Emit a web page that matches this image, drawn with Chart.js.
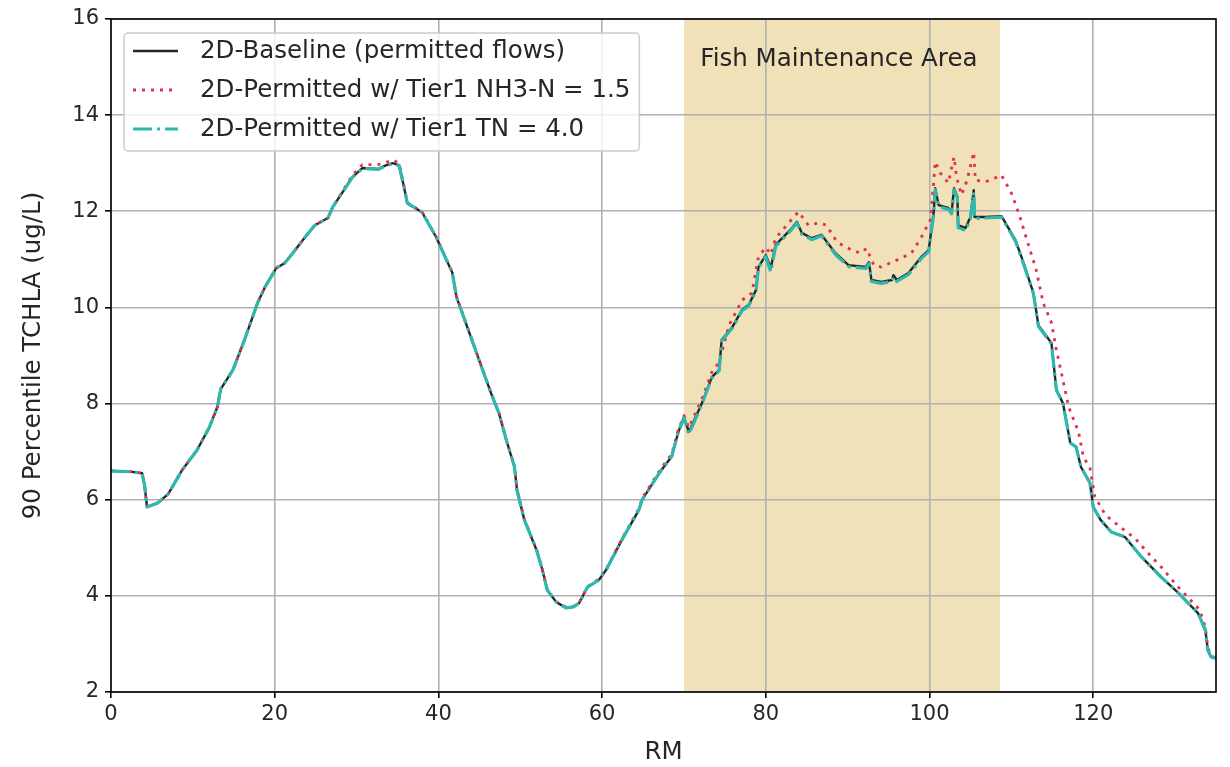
<!DOCTYPE html>
<html>
<head>
<meta charset="utf-8">
<title>90 Percentile TCHLA along the river</title>
<script src="https://cdn.jsdelivr.net/npm/chart.js@4.4.1/dist/chart.umd.min.js"></script>
<style>
  html, body { margin: 0; padding: 0; background: #fff; }
  #chart-wrap { width: 1230px; height: 767px; }
</style>
</head>
<body>
<div id="chart-wrap"><canvas id="tchlaChart" width="1230" height="767"></canvas></div>
<script>
// River mile stations shared by the baseline and TN runs
const rmStations = [
    0, 2.6, 3.8, 4.1, 4.4, 5.7, 7.0, 8.7, 10.5, 12.0,
    13.0, 13.4, 14.9, 16.3, 17.9, 18.8, 20.2, 21.2, 22.3, 23.7,
    24.9, 26.5, 27.1, 28.3, 29.5, 30.7, 32.6, 33.5, 34.4, 35.2,
    35.8, 36.2, 38.0, 39.7, 41.7, 42.2, 44.1, 45.4, 46.6, 47.4,
    48.3, 49.3, 49.6, 50.5, 52.0, 52.7, 53.3, 54.4, 55.6, 56.5,
    57.2, 58.2, 59.6, 60.5, 62.4, 64.5, 64.9, 67.0, 68.5, 69.3,
    70.0, 70.6, 72.2, 73.4, 74.3, 74.6, 75.9, 77.1, 77.9, 78.8,
    79.1, 80.0, 80.6, 81.2, 83.2, 83.8, 84.4, 85.6, 86.8, 88.5,
    90.1, 92.2, 92.6, 92.9, 94.1, 95.4, 95.6, 96.0, 97.4, 99.0,
    99.9, 100.5, 100.7, 101.1, 102.3, 102.7, 103.0, 103.4, 103.5, 104.4,
    105.0, 105.4, 105.5, 106.8, 108.8, 110.5, 111.5, 112.7, 113.3, 114.9,
    115.5, 116.3, 117.2, 117.9, 118.5, 119.6, 120.0, 120.9, 122.2, 123.9,
    125.9, 128.3, 130.4, 132.8, 133.7, 134.0, 134.4, 135.0
];

// 2D-Baseline (permitted flows), ug/L
const baselineTchla = [
    6.60, 6.58, 6.55, 6.30, 5.85, 5.93, 6.12, 6.62, 7.03, 7.50,
    7.93, 8.30, 8.70, 9.32, 10.09, 10.42, 10.82, 10.92, 11.15, 11.46,
    11.71, 11.86, 12.09, 12.40, 12.71, 12.90, 12.88, 12.95, 13.00, 12.96,
    12.50, 12.17, 11.98, 11.47, 10.72, 10.22, 9.32, 8.70, 8.14, 7.80,
    7.24, 6.68, 6.20, 5.58, 4.95, 4.54, 4.12, 3.87, 3.75, 3.77,
    3.85, 4.18, 4.33, 4.54, 5.16, 5.79, 6.00, 6.56, 6.90, 7.40,
    7.72, 7.41, 8.01, 8.55, 8.70, 9.32, 9.59, 9.95, 10.05, 10.36,
    10.84, 11.09, 10.82, 11.30, 11.65, 11.78, 11.55, 11.44, 11.51, 11.13,
    10.88, 10.84, 10.94, 10.57, 10.53, 10.57, 10.67, 10.57, 10.71, 11.05,
    11.19, 11.96, 12.48, 12.13, 12.07, 11.98, 12.48, 12.30, 11.71, 11.65,
    11.88, 12.44, 11.88, 11.88, 11.90, 11.40, 10.92, 10.30, 9.63, 9.26,
    8.28, 8.01, 7.18, 7.10, 6.68, 6.35, 5.85, 5.58, 5.33, 5.22,
    4.81, 4.39, 4.06, 3.64, 3.29, 2.87, 2.73, 2.70
];

// 2D-Permitted w/ Tier1 TN = 4.0, ug/L
const tnTchla = [
    6.60, 6.58, 6.55, 6.30, 5.85, 5.93, 6.12, 6.62, 7.03, 7.50,
    7.93, 8.30, 8.70, 9.32, 10.09, 10.42, 10.82, 10.92, 11.15, 11.46,
    11.71, 11.86, 12.09, 12.40, 12.71, 12.89, 12.87, 12.94, 12.99, 12.95,
    12.50, 12.17, 11.98, 11.47, 10.72, 10.22, 9.32, 8.70, 8.14, 7.80,
    7.24, 6.68, 6.20, 5.58, 4.95, 4.54, 4.12, 3.87, 3.75, 3.77,
    3.85, 4.18, 4.33, 4.54, 5.16, 5.79, 6.00, 6.56, 6.90, 7.40,
    7.70, 7.36, 7.99, 8.53, 8.68, 9.30, 9.57, 9.93, 10.03, 10.34,
    10.82, 11.06, 10.74, 11.27, 11.63, 11.76, 11.52, 11.41, 11.49, 11.10,
    10.85, 10.81, 10.91, 10.54, 10.50, 10.54, 10.64, 10.54, 10.68, 11.02,
    11.16, 11.93, 12.45, 12.10, 12.04, 11.95, 12.45, 12.27, 11.66, 11.60,
    11.85, 12.40, 11.85, 11.86, 11.88, 11.38, 10.90, 10.28, 9.61, 9.24,
    8.28, 8.01, 7.18, 7.10, 6.68, 6.35, 5.85, 5.58, 5.33, 5.22,
    4.81, 4.39, 4.06, 3.64, 3.29, 2.87, 2.73, 2.70
];

// River mile stations for the NH3-N run
const nh3Stations = [
    0, 2.6, 3.8, 4.1, 4.4, 5.7, 7.0, 8.7, 10.5, 12.0,
    13.0, 13.4, 14.9, 16.3, 17.9, 18.8, 20.2, 21.2, 22.3, 23.7,
    24.9, 26.5, 27.1, 28.3, 29.5, 30.7, 32.6, 33.5, 34.4, 35.2,
    35.8, 36.2, 38.0, 39.7, 41.7, 42.2, 44.1, 45.4, 46.6, 47.4,
    48.3, 49.3, 49.6, 50.5, 52.0, 52.7, 53.3, 54.4, 55.6, 56.5,
    57.2, 58.2, 59.6, 60.5, 62.4, 64.5, 64.9, 67.0, 68.5, 69.3,
    70.0, 70.6, 72.2, 73.4, 74.3, 75.5, 77.1, 78.3, 79.1, 80.0,
    80.6, 81.2, 82.8, 84.0, 85.2, 86.5, 87.4, 88.7, 90.5, 91.6,
    92.3, 93.2, 94.1, 95.4, 96.6, 97.8, 99.0, 100.1, 100.5, 100.7,
    101.3, 102.3, 103.0, 103.3, 103.9, 104.6, 105.4, 105.6, 106.8, 108.8,
    110.0, 110.9, 111.8, 113.0, 113.9, 114.9, 115.5, 116.3, 117.0, 118.2,
    118.8, 119.6, 120.2, 121.5, 123.3, 125.1, 126.7, 128.3, 130.4, 133.0,
    133.7, 134.0, 134.4, 135.0
];

// 2D-Permitted w/ Tier1 NH3-N = 1.5, ug/L
const nh3Tchla = [
    6.60, 6.58, 6.55, 6.30, 5.85, 5.93, 6.12, 6.62, 7.03, 7.50,
    7.93, 8.30, 8.70, 9.32, 10.09, 10.42, 10.82, 10.92, 11.15, 11.46,
    11.71, 11.86, 12.09, 12.42, 12.75, 12.97, 12.97, 13.01, 13.07, 13.00,
    12.52, 12.18, 11.99, 11.48, 10.73, 10.23, 9.33, 8.71, 8.15, 7.81,
    7.25, 6.69, 6.21, 5.59, 4.96, 4.55, 4.13, 3.88, 3.76, 3.78,
    3.86, 4.19, 4.35, 4.56, 5.18, 5.82, 6.03, 6.60, 6.95, 7.45,
    7.75, 7.50, 8.10, 8.65, 8.86, 9.63, 10.15, 10.30, 11.05, 11.25,
    11.10, 11.44, 11.76, 11.99, 11.71, 11.76, 11.71, 11.36, 11.19, 11.13,
    11.23, 10.88, 10.84, 10.94, 11.03, 11.13, 11.46, 11.82, 12.59, 13.03,
    12.80, 12.59, 13.13, 12.71, 12.34, 12.65, 13.23, 12.65, 12.61, 12.75,
    12.38, 11.96, 11.46, 10.80, 10.09, 9.68, 9.11, 8.49, 7.93, 7.41,
    6.89, 6.66, 6.06, 5.68, 5.43, 5.20, 4.89, 4.60, 4.18, 3.71,
    3.35, 2.92, 2.75, 2.70
];

const seriesLabels = [
    '2D-Baseline (permitted flows)',
    '2D-Permitted w/ Tier1 NH3-N = 1.5',
    '2D-Permitted w/ Tier1 TN = 4.0'
];

// Fish Maintenance Area reach, in RM
const fishAreaRM = [70.0, 108.6];
const fishAreaLabel = 'Fish Maintenance Area';

const FONT = '"DejaVu Sans", "Liberation Sans", sans-serif';
const TEXT_COLOR = '#262626';

const lineStyles = [
    { color: '#262626', width: 2.4, dash: [] },
    { color: '#e2304f', width: 2.8, dash: [3, 6] },
    { color: '#2fb8ae', width: 3.2, dash: [19, 5, 3, 5] }
];

function toPoints(xs, ys) {
    return xs.map((x, i) => ({ x: x, y: ys[i] }));
}

// Shaded reach sits under the grid; its caption and the frame/legend go on top
const fishAreaPlugin = {
    id: 'fishArea',
    beforeDraw(chart) {
        const { ctx, chartArea, scales } = chart;
        const x0 = scales.x.getPixelForValue(fishAreaRM[0]);
        const x1 = scales.x.getPixelForValue(fishAreaRM[1]);
        ctx.save();
        ctx.fillStyle = 'rgb(241, 225, 185)';
        ctx.fillRect(x0, chartArea.top, x1 - x0, chartArea.bottom - chartArea.top);
        ctx.restore();
    },
    beforeDatasetsDraw(chart) {
        const { ctx, scales } = chart;
        ctx.save();
        ctx.font = `24.5px ${FONT}`;
        ctx.fillStyle = TEXT_COLOR;
        ctx.textAlign = 'left';
        ctx.textBaseline = 'middle';
        ctx.fillText(fishAreaLabel, scales.x.getPixelForValue(72.0), scales.y.getPixelForValue(15.15));
        ctx.restore();
    }
};

const frameLegendPlugin = {
    id: 'frameLegend',
    afterDatasetsDraw(chart) {
        const { ctx, chartArea } = chart;
        ctx.save();
        ctx.strokeStyle = '#000';
        ctx.lineWidth = 1.6;
        ctx.strokeRect(chartArea.left, chartArea.top,
            chartArea.right - chartArea.left, chartArea.bottom - chartArea.top);

        // legend box in the upper left corner
        ctx.font = `24.5px ${FONT}`;
        const textX = chartArea.left + 89;
        const maxW = Math.max(...seriesLabels.map(t => ctx.measureText(t).width));
        const boxX = chartArea.left + 13, boxY = chartArea.top + 14;
        const boxW = textX + maxW + 9 - boxX, boxH = 118;
        ctx.beginPath();
        ctx.roundRect(boxX, boxY, boxW, boxH, 4);
        ctx.fillStyle = 'rgba(255,255,255,0.8)';
        ctx.fill();
        ctx.strokeStyle = '#cccccc';
        ctx.lineWidth = 1.5;
        ctx.stroke();

        const rowY = [boxY + 18, boxY + 57, boxY + 96];
        seriesLabels.forEach((label, i) => {
            const st = lineStyles[i];
            ctx.beginPath();
            ctx.setLineDash(st.dash);
            ctx.lineCap = 'butt';
            ctx.strokeStyle = st.color;
            ctx.lineWidth = st.width;
            ctx.moveTo(boxX + 9, rowY[i]);
            ctx.lineTo(boxX + 54, rowY[i]);
            ctx.stroke();
            ctx.setLineDash([]);
            ctx.fillStyle = TEXT_COLOR;
            ctx.textAlign = 'left';
            ctx.textBaseline = 'middle';
            ctx.fillText(label, textX, rowY[i] + 1);
        });
        ctx.restore();
    }
};

const tickFont = { family: FONT, size: 21 };
const titleFont = { family: FONT, size: 24.5 };
const gridStyle = {
    color: '#b0b0b0',
    lineWidth: 1.6,
    tickColor: '#000',
    tickLength: 6,
    tickWidth: 1.6
};

const ctx = document.getElementById('tchlaChart').getContext('2d');
const chart = new Chart(ctx, {
    type: 'line',
    data: {
        datasets: [
            {
                label: seriesLabels[0],
                data: toPoints(rmStations, baselineTchla),
                borderColor: lineStyles[0].color,
                borderWidth: lineStyles[0].width,
                order: 3
            },
            {
                label: seriesLabels[1],
                data: toPoints(nh3Stations, nh3Tchla),
                borderColor: lineStyles[1].color,
                borderWidth: lineStyles[1].width,
                borderDash: lineStyles[1].dash,
                order: 2
            },
            {
                label: seriesLabels[2],
                data: toPoints(rmStations, tnTchla),
                borderColor: lineStyles[2].color,
                borderWidth: lineStyles[2].width,
                borderDash: lineStyles[2].dash,
                order: 1
            }
        ]
    },
    options: {
        responsive: false,
        animation: false,
        layout: { padding: { top: 19, right: 14, left: 0, bottom: 0 } },
        elements: {
            point: { radius: 0, hoverRadius: 0 },
            line: { tension: 0, fill: false, borderCapStyle: 'butt', borderJoinStyle: 'round' }
        },
        plugins: {
            legend: { display: false },
            tooltip: { enabled: false }
        },
        scales: {
            x: {
                type: 'linear',
                min: 0,
                max: 135,
                grid: gridStyle,
                border: { display: false },
                ticks: { stepSize: 20, includeBounds: false, color: TEXT_COLOR, font: tickFont, padding: 4, maxRotation: 0 },
                title: { display: true, text: 'RM', color: TEXT_COLOR, font: titleFont, padding: { top: 0, bottom: 0 } },
                afterFit: scale => { scale.height = 75; }
            },
            y: {
                type: 'linear',
                min: 2,
                max: 16,
                grid: gridStyle,
                border: { display: false },
                ticks: { stepSize: 2, color: TEXT_COLOR, font: tickFont, padding: 6 },
                title: { display: true, text: '90 Percentile TCHLA (ug/L)', color: TEXT_COLOR, font: titleFont, padding: { top: 19, bottom: 0 } },
                afterFit: scale => { scale.width = 111; }
            }
        }
    },
    plugins: [fishAreaPlugin, frameLegendPlugin]
});
</script>
</body>
</html>
